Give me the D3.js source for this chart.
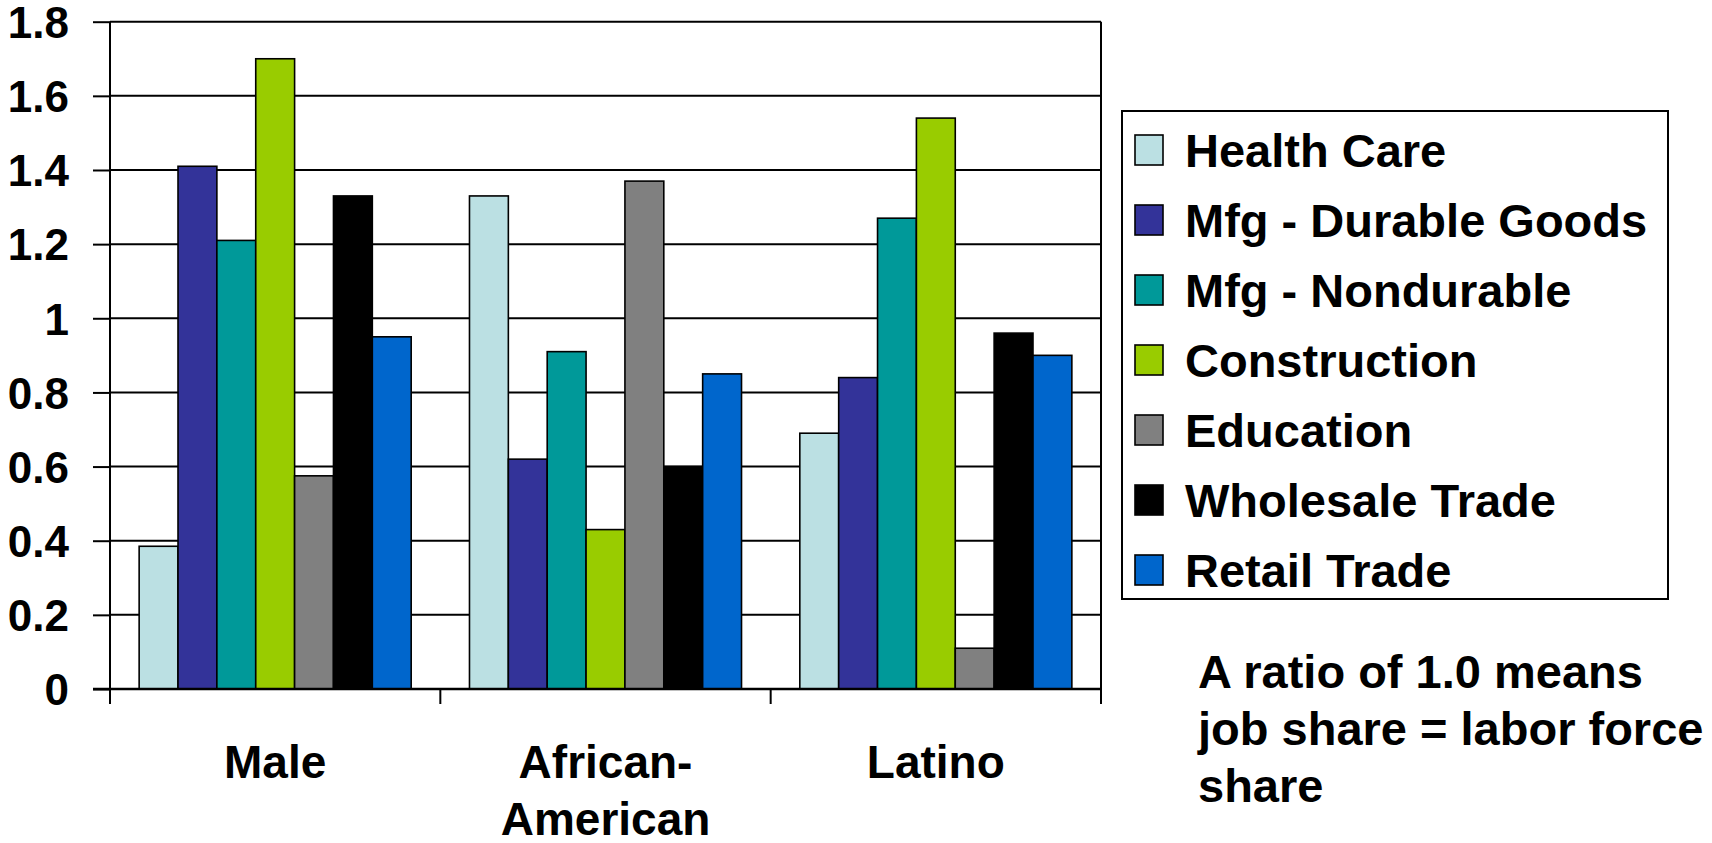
<!DOCTYPE html>
<html>
<head>
<meta charset="utf-8">
<script src="https://cdn.jsdelivr.net/npm/d3@7/dist/d3.min.js"></script>
<style>
  html, body { margin: 0; padding: 0; background: #fff; }
  svg { display: block; }
  text { font-family: "Liberation Sans", Arial, sans-serif; font-weight: bold; fill: #000; }
</style>
</head>
<body>
<svg id="chart" width="1712" height="843"></svg>
<script>
// ---- data ----
const categories = ["Male", "African-American", "Latino"];
const categoryLines = [["Male"], ["African-", "American"], ["Latino"]];
const seriesNames = ["Health Care", "Mfg - Durable Goods", "Mfg - Nondurable", "Construction", "Education", "Wholesale Trade", "Retail Trade"];
const seriesColors = ["#BBE0E3", "#333399", "#009999", "#99CC00", "#808080", "#000000", "#0066CC"];
const healthCare   = [0.385, 1.33, 0.69];
const durableGoods = [1.41, 0.62, 0.84];
const nondurable   = [1.21, 0.91, 1.27];
const construction = [1.70, 0.43, 1.54];
const education    = [0.575, 1.37, 0.11];
const wholesale    = [1.33, 0.60, 0.96];
const retail       = [0.95, 0.85, 0.90];
const seriesValues = [healthCare, durableGoods, nondurable, construction, education, wholesale, retail];
const yTicks = [0, 0.2, 0.4, 0.6, 0.8, 1, 1.2, 1.4, 1.6, 1.8];
const noteLines = ["A ratio of 1.0 means", "job share = labor force", "share"];

// ---- layout ----
const svg = d3.select("#chart");
const plot = { left: 110, right: 1101, top: 21.7, bottom: 689 };

const y = d3.scaleLinear().domain([0, 1.8]).range([plot.bottom, plot.top]);
const x0 = d3.scaleBand().domain(categories).range([plot.left, plot.right]).padding(0);
const x1 = d3.scaleBand().domain(seriesNames).range([0, x0.bandwidth()]).paddingInner(0).paddingOuter(0.75);

// gridlines
svg.append("g").selectAll("line").data(yTicks.filter(d => d > 0)).join("line")
  .attr("x1", plot.left).attr("x2", plot.right)
  .attr("y1", d => y(d)).attr("y2", d => y(d))
  .attr("stroke", "#000").attr("stroke-width", 2);

// bars
const rows = [];
categories.forEach((c, ci) => seriesNames.forEach((s, si) => rows.push({ c, s, si, v: seriesValues[si][ci] })));
svg.append("g").selectAll("rect").data(rows).join("rect")
  .attr("x", d => x0(d.c) + x1(d.s))
  .attr("y", d => y(d.v))
  .attr("width", x1.bandwidth())
  .attr("height", d => y(0) - y(d.v))
  .attr("fill", d => seriesColors[d.si])
  .attr("stroke", "#000").attr("stroke-width", 1.6);

// y axis
const yAxis = d3.axisLeft(y).tickValues(yTicks).tickSize(17).tickPadding(24)
  .tickFormat(d => d3.format("~g")(d));
const gy = svg.append("g").attr("transform", `translate(${plot.left},0)`).call(yAxis);
gy.select(".domain").remove();
gy.selectAll(".tick line").attr("stroke", "#000").attr("stroke-width", 2);
gy.selectAll(".tick text").attr("font-size", 44).attr("dy", "0.36em")
  .style("font-family", '"Liberation Sans", Arial, sans-serif').style("font-weight", "bold");

// axis lines & border
svg.append("line").attr("x1", plot.left).attr("x2", plot.left).attr("y1", plot.top).attr("y2", plot.bottom + 15)
  .attr("stroke", "#000").attr("stroke-width", 2);
svg.append("line").attr("x1", plot.right).attr("x2", plot.right).attr("y1", plot.top).attr("y2", plot.bottom + 15)
  .attr("stroke", "#000").attr("stroke-width", 2);
svg.append("line").attr("x1", plot.left - 17).attr("x2", plot.right).attr("y1", y(0)).attr("y2", y(0))
  .attr("stroke", "#000").attr("stroke-width", 2.5);

// x ticks at category boundaries
const boundaries = categories.map(c => x0(c)).concat([x0(categories[categories.length - 1]) + x0.bandwidth()]);
svg.append("g").selectAll("line").data(boundaries).join("line")
  .attr("x1", d => d).attr("x2", d => d)
  .attr("y1", plot.bottom).attr("y2", plot.bottom + 15)
  .attr("stroke", "#000").attr("stroke-width", 2);

// category labels
const catG = svg.append("g").selectAll("text").data(categories).join("text")
  .attr("x", d => x0(d) + x0.bandwidth() / 2)
  .attr("y", 778)
  .attr("text-anchor", "middle")
  .attr("font-size", 46);
catG.each(function(d, i) {
  d3.select(this).selectAll("tspan").data(categoryLines[i]).join("tspan")
    .attr("x", x0(d) + x0.bandwidth() / 2)
    .attr("dy", (t, j) => j === 0 ? 0 : 57)
    .text(t => t);
});

// legend
const lg = svg.append("g");
lg.append("rect").attr("x", 1122).attr("y", 111).attr("width", 546).attr("height", 488)
  .attr("fill", "#fff").attr("stroke", "#000").attr("stroke-width", 2);
const items = lg.selectAll("g.item").data(seriesNames).join("g").attr("class", "item")
  .attr("transform", (d, i) => `translate(0, ${150 + i * 70})`);
items.append("rect").attr("x", 1135).attr("y", -15).attr("width", 28).attr("height", 30)
  .attr("fill", (d, i) => seriesColors[i]).attr("stroke", "#000").attr("stroke-width", 1.6);
items.append("text").attr("x", 1185).attr("y", 17).attr("font-size", 47).text(d => d);

// note
svg.append("g").selectAll("text").data(noteLines).join("text")
  .attr("x", 1198).attr("y", (d, i) => 688 + i * 57)
  .attr("font-size", 47).text(d => d);
</script>
</body>
</html>
